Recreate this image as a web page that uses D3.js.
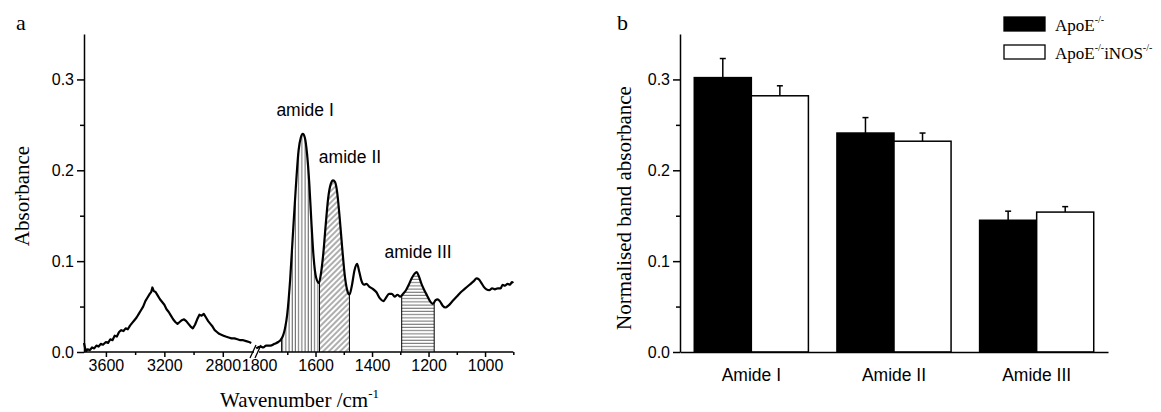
<!DOCTYPE html>
<html>
<head>
<meta charset="utf-8">
<script src="https://cdn.jsdelivr.net/npm/d3@7"></script>
<style>
  html, body { margin: 0; padding: 0; background: #fff; }
  svg { display: block; }
  .serif { font-family: "Liberation Serif", "Times New Roman", serif; fill: #000; }
  .sans { font-family: "Liberation Sans", Arial, sans-serif; fill: #000; }
</style>
</head>
<body>
<svg id="chart" width="1161" height="412"></svg>
<script>
// ---------- Panel a data: FTIR spectrum ----------
const leftWavenumber = [3750,3742,3735,3725,3710,3695,3680,3665,3650,3635,3620,3600,3585,3570,3555,3540,3525,3510,3495,3480,3465,3450,3435,3420,3405,3390,3375,3360,3345,3330,3315,3300,3290,3282,3272,3260,3245,3230,3215,3200,3185,3170,3155,3140,3125,3110,3095,3080,3065,3050,3035,3020,3005,2990,2975,2960,2945,2930,2915,2900,2885,2870,2855,2840,2825,2810,2795,2780,2760,2740,2720,2700,2680,2660,2640,2620,2605];
const leftAbsorbance = [0.010,0.004,0.001,0.003,0.002,0.005,0.004,0.007,0.006,0.009,0.008,0.011,0.010,0.014,0.013,0.018,0.017,0.022,0.024,0.023,0.026,0.025,0.029,0.032,0.035,0.038,0.042,0.046,0.050,0.056,0.060,0.064,0.066,0.071,0.067,0.066,0.062,0.058,0.055,0.052,0.047,0.044,0.040,0.036,0.033,0.031,0.033,0.035,0.036,0.034,0.031,0.028,0.026,0.030,0.036,0.041,0.040,0.042,0.038,0.034,0.031,0.028,0.024,0.022,0.020,0.019,0.018,0.017,0.016,0.015,0.015,0.014,0.013,0.013,0.012,0.011,0.010];

const rightWavenumber = [1810,1795,1785,1775,1760,1745,1732,1724,1715,1708,1700,1690,1680,1670,1660,1652,1645,1638,1630,1622,1615,1607,1598,1588,1580,1572,1564,1555,1546,1538,1531,1524,1516,1506,1496,1486,1480,1472,1462,1453,1445,1437,1428,1420,1410,1400,1385,1372,1360,1350,1340,1330,1320,1310,1300,1290,1280,1270,1260,1250,1242,1235,1225,1215,1205,1195,1185,1175,1168,1160,1150,1140,1130,1115,1100,1085,1070,1055,1040,1030,1022,1015,1005,995,985,975,965,955,945,938,930,920,912,905,900];
const rightAbsorbance = [0.004,0.006,0.005,0.007,0.007,0.009,0.011,0.013,0.018,0.026,0.042,0.079,0.130,0.180,0.222,0.236,0.240,0.236,0.218,0.185,0.145,0.105,0.082,0.076,0.088,0.110,0.140,0.170,0.185,0.189,0.187,0.177,0.153,0.116,0.083,0.066,0.063,0.072,0.090,0.097,0.088,0.078,0.074,0.075,0.072,0.070,0.066,0.059,0.056,0.060,0.064,0.064,0.061,0.063,0.061,0.064,0.068,0.074,0.081,0.086,0.088,0.084,0.075,0.068,0.062,0.056,0.053,0.057,0.058,0.056,0.051,0.049,0.051,0.056,0.061,0.066,0.070,0.074,0.078,0.081,0.080,0.077,0.072,0.069,0.068,0.070,0.069,0.070,0.070,0.074,0.073,0.075,0.074,0.077,0.076];

// band regions (wavenumber limits) and labels
const bandNames = ["amide I", "amide II", "amide III"];
const bandStart = [1720, 1586, 1295];
const bandEnd = [1586, 1480, 1180];
const bandLabelWavenumber = [1637, 1478, 1237];
const bandLabelValue = [0.260, 0.2077, 0.103];

const yTicksA = [0, 0.1, 0.2, 0.3];
const yMinorTicks = [0.05, 0.15, 0.25];
const leftXTicks = [3600, 3200, 2800];
const leftXMinor = [3400, 3000];
const rightXTicks = [1800, 1600, 1400, 1200, 1000];
const rightXMinor = [1700, 1500, 1300, 1100, 900];

// ---------- Panel b data: bar chart ----------
const categories = ["Amide I", "Amide II", "Amide III"];
const seriesNames = ["ApoE", "ApoEiNOS"];
const apoE = [0.302, 0.241, 0.145];
const apoEErr = [0.021, 0.017, 0.010];
const apoEiNOS = [0.282, 0.232, 0.154];
const apoEiNOSErr = [0.011, 0.009, 0.006];

const svg = d3.select("#chart");
const SANS = '"Liberation Sans", Arial, sans-serif';

// patterns
const defs = svg.append("defs");
const pV = defs.append("pattern").attr("id", "hatchV").attr("patternUnits", "userSpaceOnUse").attr("width", 3.2).attr("height", 10);
pV.append("line").attr("x1", 1).attr("x2", 1).attr("y1", 0).attr("y2", 10).attr("stroke", "#222").attr("stroke-width", 0.8);
const pD = defs.append("pattern").attr("id", "hatchD").attr("patternUnits", "userSpaceOnUse").attr("width", 4).attr("height", 4).attr("patternTransform", "rotate(45)");
pD.append("line").attr("x1", 1).attr("x2", 1).attr("y1", 0).attr("y2", 4).attr("stroke", "#333").attr("stroke-width", 0.8);
const pH = defs.append("pattern").attr("id", "hatchH").attr("patternUnits", "userSpaceOnUse").attr("width", 10).attr("height", 3.2);
pH.append("line").attr("x1", 0).attr("x2", 10).attr("y1", 1).attr("y2", 1).attr("stroke", "#333").attr("stroke-width", 0.8);
const patterns = ["url(#hatchV)", "url(#hatchD)", "url(#hatchH)"];

// ================= Panel a =================
const yA = d3.scaleLinear().domain([0, 0.35]).range([352, 34]);
const xL = d3.scaleLinear().domain([3750, 2600]).range([84, 252]);
const xR = d3.scaleLinear().domain([1810, 900]).range([256.2, 513.3]);
const baseY = yA(0);

const gA = svg.append("g");

// hatched band areas
const rightData = rightWavenumber.map((w, i) => ({ w, a: rightAbsorbance[i] }));
const areaR = d3.area().x(d => xR(d.w)).y0(baseY).y1(d => yA(d.a)).curve(d3.curveMonotoneX);
bandStart.forEach((s, i) => {
  const cid = "clipBand" + i;
  defs.append("clipPath").attr("id", cid).append("rect")
    .attr("x", xR(s)).attr("y", 0).attr("width", xR(bandEnd[i]) - xR(s)).attr("height", baseY);
  gA.append("path").datum(rightData).attr("d", areaR)
    .attr("fill", patterns[i]).attr("clip-path", `url(#${cid})`);
  [s, bandEnd[i]].forEach(w => {
    const idx = d3.bisector(d => -d.w).left(rightData, -w);
    const d0 = rightData[Math.max(idx - 1, 0)], d1 = rightData[Math.min(idx, rightData.length - 1)];
    const t = d1.w === d0.w ? 0 : (w - d0.w) / (d1.w - d0.w);
    const val = d0.a + t * (d1.a - d0.a);
    gA.append("line").attr("x1", xR(w)).attr("x2", xR(w)).attr("y1", baseY).attr("y2", yA(val))
      .attr("stroke", "#000").attr("stroke-width", 1);
  });
});

// spectrum lines
const leftData = leftWavenumber.map((w, i) => ({ w, a: leftAbsorbance[i] }));
gA.append("path").datum(leftData)
  .attr("d", d3.line().x(d => xL(d.w)).y(d => yA(d.a)))
  .attr("fill", "none").attr("stroke", "#000").attr("stroke-width", 2.2).attr("stroke-linejoin", "round");
gA.append("path").datum(rightData)
  .attr("d", d3.line().x(d => xR(d.w)).y(d => yA(d.a)).curve(d3.curveMonotoneX))
  .attr("fill", "none").attr("stroke", "#000").attr("stroke-width", 2.2).attr("stroke-linejoin", "round");

// axes
function styleAxis(g, size) {
  g.attr("font-family", SANS).attr("font-size", size || 16);
  g.selectAll(".tick text").attr("fill", "#000");
  g.selectAll(".domain").attr("stroke", "#000").attr("stroke-width", 1.5);
  g.selectAll(".tick line").attr("stroke", "#000").attr("stroke-width", 1.5);
}
const yAxisA = gA.append("g").attr("transform", "translate(84,0)")
  .call(d3.axisLeft(yA).tickValues(yTicksA).tickFormat(d3.format(".1f")).tickSize(7).tickPadding(3).tickSizeOuter(0));
styleAxis(yAxisA);
const yMinorA = gA.append("g").attr("transform", "translate(84,0)")
  .call(d3.axisLeft(yA).tickValues(yMinorTicks).tickFormat("").tickSize(4).tickSizeOuter(0));
yMinorA.select(".domain").remove();
styleAxis(yMinorA);

const xAxisL = gA.append("g").attr("transform", `translate(0,${baseY})`)
  .call(d3.axisBottom(xL).tickValues(leftXTicks).tickFormat(d3.format("d")).tickSize(5).tickPadding(3).tickSizeOuter(0));
styleAxis(xAxisL);
xAxisL.select(".domain").attr("d", `M84,0H254`);
const xMinorL = gA.append("g").attr("transform", `translate(0,${baseY})`)
  .call(d3.axisBottom(xL).tickValues(leftXMinor).tickFormat("").tickSize(3).tickSizeOuter(0));
xMinorL.select(".domain").remove();
styleAxis(xMinorL);

const xAxisR = gA.append("g").attr("transform", `translate(0,${baseY})`)
  .call(d3.axisBottom(xR).tickValues(rightXTicks).tickFormat(d3.format("d")).tickSize(5).tickPadding(3).tickSizeOuter(0));
styleAxis(xAxisR);
xAxisR.selectAll(".tick").filter(d => d === 1800).select("line").remove();
xAxisR.select(".domain").attr("d", `M259,0H513.3`);
const xMinorR = gA.append("g").attr("transform", `translate(0,${baseY})`)
  .call(d3.axisBottom(xR).tickValues(rightXMinor).tickFormat("").tickSize(3).tickSizeOuter(0));
xMinorR.select(".domain").remove();
styleAxis(xMinorR);

// break marks
[[250, 256], [255, 261]].forEach(([x1, x2]) => {
  gA.append("line").attr("x1", x1).attr("y1", baseY + 6).attr("x2", x2).attr("y2", baseY - 7)
    .attr("stroke", "#000").attr("stroke-width", 1.3);
});

// band labels
bandNames.forEach((n, i) => {
  gA.append("text").attr("class", "sans").attr("x", xR(bandLabelWavenumber[i])).attr("y", yA(bandLabelValue[i]))
    .attr("text-anchor", "middle").attr("font-size", 17.5).text(n);
});

// axis titles
gA.append("text").attr("class", "serif").attr("font-size", 21)
  .attr("transform", "translate(29,196) rotate(-90)").attr("text-anchor", "middle").text("Absorbance");
const xt = gA.append("text").attr("class", "serif").attr("font-size", 21).attr("x", 220).attr("y", 407);
xt.append("tspan").text("Wavenumber /cm");
xt.append("tspan").attr("font-size", 13).attr("dy", -9).text("-1");
gA.append("text").attr("class", "serif").attr("font-size", 22).attr("x", 16).attr("y", 30).text("a");

// ================= Panel b =================
const gB = svg.append("g");
const yB = d3.scaleLinear().domain([0, 0.35]).range([352, 34]);
const xB = d3.scaleBand().domain(categories).range([680, 1108]).paddingInner(0.2).paddingOuter(0.1);
const xSub = d3.scaleBand().domain(seriesNames).range([0, xB.bandwidth()]);
const seriesVals = [apoE, apoEiNOS];
const seriesErr = [apoEErr, apoEiNOSErr];
const seriesFill = ["#000", "#fff"];

seriesNames.forEach((s, si) => {
  categories.forEach((c, ci) => {
    const v = seriesVals[si][ci], e = seriesErr[si][ci];
    const x0 = xB(c) + xSub(s);
    const cx = x0 + xSub.bandwidth() / 2;
    gB.append("line").attr("x1", cx).attr("x2", cx).attr("y1", yB(v)).attr("y2", yB(v + e))
      .attr("stroke", "#000").attr("stroke-width", 1.5);
    gB.append("line").attr("x1", cx - 3).attr("x2", cx + 3).attr("y1", yB(v + e)).attr("y2", yB(v + e))
      .attr("stroke", "#000").attr("stroke-width", 1.5);
    gB.append("rect").attr("x", x0).attr("y", yB(v)).attr("width", xSub.bandwidth()).attr("height", yB(0) - yB(v))
      .attr("fill", seriesFill[si]).attr("stroke", "#000").attr("stroke-width", 1.5);
  });
});

const yAxisB = gB.append("g").attr("transform", "translate(680,0)")
  .call(d3.axisLeft(yB).tickValues(yTicksA).tickFormat(d3.format(".1f")).tickSize(7).tickPadding(3).tickSizeOuter(0));
styleAxis(yAxisB);
const yMinorB = gB.append("g").attr("transform", "translate(680,0)")
  .call(d3.axisLeft(yB).tickValues(yMinorTicks).tickFormat("").tickSize(4).tickSizeOuter(0));
yMinorB.select(".domain").remove();
styleAxis(yMinorB);
const xAxisB = gB.append("g").attr("transform", "translate(0,352)")
  .call(d3.axisBottom(xB).tickSize(0).tickPadding(17).tickSizeOuter(0));
styleAxis(xAxisB, 17.5);

gB.append("text").attr("class", "serif").attr("font-size", 21)
  .attr("transform", "translate(631,208) rotate(-90)").attr("text-anchor", "middle").text("Normalised band absorbance");
gB.append("text").attr("class", "serif").attr("font-size", 22).attr("x", 617).attr("y", 30).text("b");

// legend
const legendY = [17, 45];
seriesNames.forEach((s, i) => {
  gB.append("rect").attr("x", 1004).attr("y", legendY[i]).attr("width", 41).attr("height", 14)
    .attr("fill", seriesFill[i]).attr("stroke", "#000").attr("stroke-width", 1.3);
  const t = gB.append("text").attr("class", "serif").attr("font-size", 17).attr("x", 1055).attr("y", legendY[i] + 14);
  t.append("tspan").text("ApoE");
  t.append("tspan").attr("font-size", 10).attr("dy", -8).text("-/-");
  if (i === 1) {
    t.append("tspan").attr("dy", 8).text("iNOS");
    t.append("tspan").attr("font-size", 10).attr("dy", -8).text("-/-");
  }
});
</script>
</body>
</html>
